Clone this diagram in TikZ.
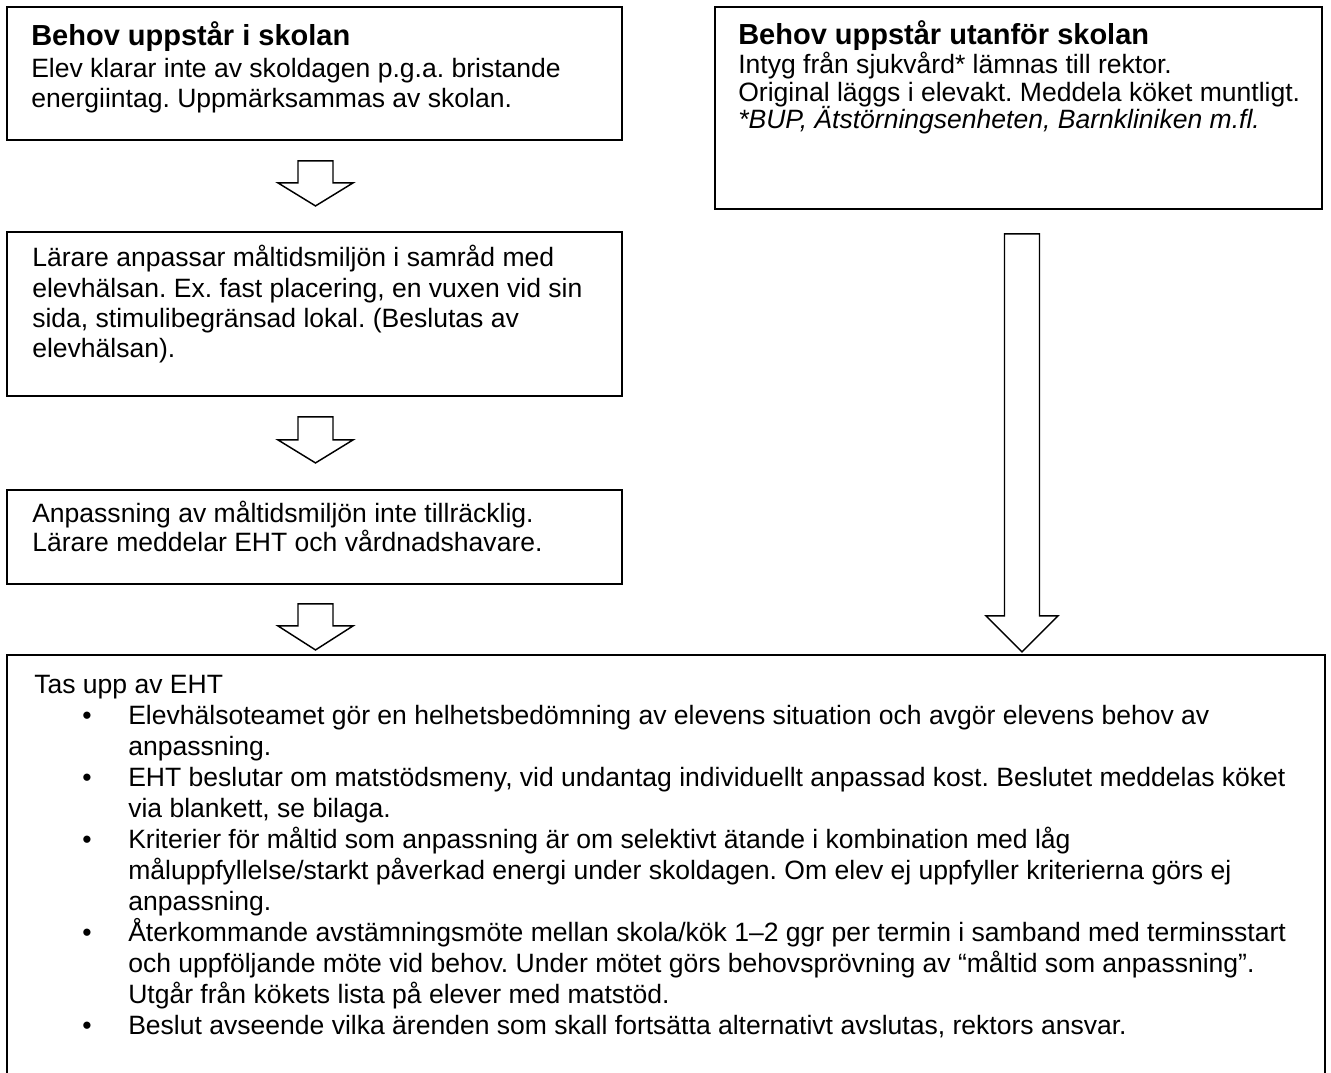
\documentclass[tikz,border=0pt]{standalone}
\usepackage{fontspec}
\setmainfont{Liberation Sans}
\usetikzlibrary{calc,fit}
\frenchspacing
\newcommand\blockdown[5]{%
  \draw[barrow] ($(#1)+(-#2,0)$) -- ($(#1)+(#2,0)$) -- ($(#1)+(#2,#4)$) -- ($(#1)+(#3,#4)$)
    -- ($(#1)+(0,#5)$) -- ($(#1)+(-#3,#4)$) -- ($(#1)+(-#2,#4)$) -- cycle;}
\begin{document}
\frenchspacing
\begin{tikzpicture}[x=0.75pt,y=-0.75pt,
  box/.style={draw=black, line width=1.4pt, fill=white, rectangle, inner sep=0pt},
  boxline/.style={draw=black, line width=1.4pt},
  barrow/.style={draw=black, line width=1.1pt, fill=white, line join=miter},
  body/.style={anchor=base west, inner sep=0pt, font=\fontsize{19.9}{23}\selectfont\frenchspacing},
  ttl/.style={anchor=base west, inner sep=0pt, font=\fontsize{21.75}{25}\selectfont\bfseries},
  ital/.style={anchor=base west, inner sep=0pt, font=\fontsize{19.9}{23}\selectfont\itshape\frenchspacing},
  bul/.style={anchor=base, inner sep=0pt, font=\fontsize{19.9}{23}\selectfont}]
\useasboundingbox[fill=white] (0,0) rectangle (1331,1073);

% boxes
\node[box, fit={(7,7) (622,140)}] (A) {};
\node[box, fit={(715,7) (1322,209)}] (B) {};
\node[box, fit={(7,232) (622,396)}] (C) {};
\node[box, fit={(7,490) (622,584)}] (D) {};
\node[inner sep=0pt, fit={(7,655) (1325,1073)}] (E) {};
\draw[boxline] (E.south west) -- (E.north west) -- (E.north east) -- (E.south east);

% block arrows
\coordinate (s1) at ($(A.south)+(1,20)$);
\coordinate (s2) at ($(C.south)+(1,20)$);
\coordinate (s3) at ($(D.south)+(1,19)$);
\coordinate (s4) at ($(B.south)+(3.5,24)$);
\blockdown{s1}{17.5}{37.5}{22}{45}
\blockdown{s2}{17.5}{37.5}{23}{46}
\blockdown{s3}{17.5}{37.5}{22}{46}
\blockdown{s4}{17.5}{36}{382}{418}

% box A text
\node[ttl]  (At) at (31,45.5) {Behov uppstår i skolan};
\node[body] (A1) at (31,78) {Elev klarar inte av skoldagen p.g.a. bristande};
\node[body] (A2) at (31,107.5) {energiintag. Uppmärksammas av skolan.};

% box B text
\node[ttl]  (Bt) at (738,45) {Behov uppstår utanför skolan};
\node[body] (B1) at (738,74) {Intyg från sjukvård* lämnas till rektor.};
\node[body] (B2) at (738,101.5) {Original läggs i elevakt. Meddela köket muntligt.};
\node[ital] (B3) at (738,129) {*BUP, Ätstörningsenheten, Barnkliniken m.fl.};

% box C text
\node[body] (C1) at (32,267) {Lärare anpassar måltidsmiljön i samråd med};
\node[body] (C2) at (32,297) {elevhälsan. Ex. fast placering, en vuxen vid sin};
\node[body] (C3) at (32,327) {sida, stimulibegränsad lokal. (Beslutas av};
\node[body] (C4) at (32,357) {elevhälsan).};

% box D text
\node[body] (D1) at (32,522) {Anpassning av måltidsmiljön inte tillräcklig.};
\node[body] (D2) at (32,551) {Lärare meddelar EHT och vårdnadshavare.};

% box E text
\node[body] (E0) at (34,693) {Tas upp av EHT};
\node[bul] (Eb1) at (87,724) {•};
\node[body] (E1) at (128,724) {Elevhälsoteamet gör en helhetsbedömning av elevens situation och avgör elevens behov av};
\node[body] (E2) at (128,755) {anpassning.};
\node[bul] (Eb2) at (87,786) {•};
\node[body] (E3) at (128,786) {EHT beslutar om matstödsmeny, vid undantag individuellt anpassad kost. Beslutet meddelas köket};
\node[body] (E4) at (128,817) {via blankett, se bilaga.};
\node[bul] (Eb3) at (87,848) {•};
\node[body] (E5) at (128,848) {Kriterier för måltid som anpassning är om selektivt ätande i kombination med låg};
\node[body] (E6) at (128,879) {måluppfyllelse/starkt påverkad energi under skoldagen. Om elev ej uppfyller kriterierna görs ej};
\node[body] (E7) at (128,910) {anpassning.};
\node[bul] (Eb4) at (87,941) {•};
\node[body] (E8) at (128,941) {Återkommande avstämningsmöte mellan skola/kök 1–2 ggr per termin i samband med terminsstart};
\node[body] (E9) at (128,972) {och uppföljande möte vid behov. Under mötet görs behovsprövning av “måltid som anpassning”.};
\node[body] (E10) at (128,1003) {Utgår från kökets lista på elever med matstöd.};
\node[bul] (Eb5) at (87,1034) {•};
\node[body] (E11) at (128,1034) {Beslut avseende vilka ärenden som skall fortsätta alternativt avslutas, rektors ansvar.};
\end{tikzpicture}
\end{document}
